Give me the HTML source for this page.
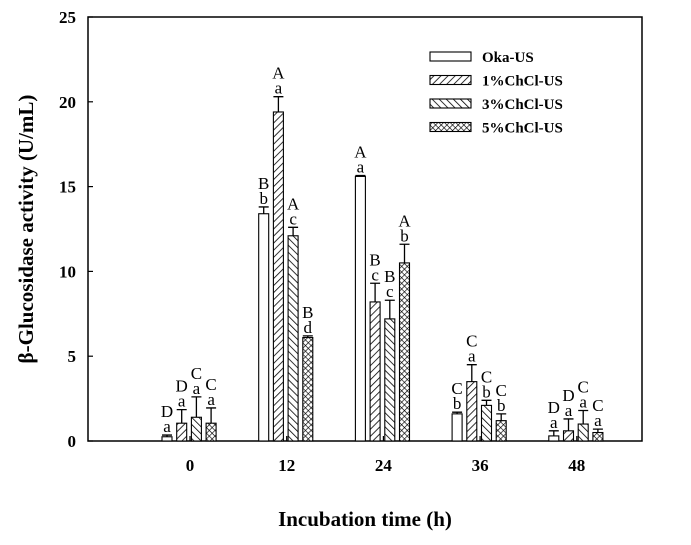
<!DOCTYPE html>
<html><head><meta charset="utf-8"><style>
body{margin:0;background:#fff}
svg text{font-family:"Liberation Serif",serif}
</style></head><body>
<svg id="c" width="691" height="540" viewBox="0 0 691 540">
<defs>
<pattern id="p1" width="5" height="5" patternUnits="userSpaceOnUse" patternTransform="rotate(45)"><rect width="5" height="5" fill="#fff"/><line x1="0" y1="0" x2="0" y2="5" stroke="#000" stroke-width="1.6"/></pattern>
<pattern id="p3" width="5" height="5" patternUnits="userSpaceOnUse" patternTransform="rotate(-45)"><rect width="5" height="5" fill="#fff"/><line x1="0" y1="0" x2="0" y2="5" stroke="#000" stroke-width="1.6"/></pattern>
<pattern id="p5" width="4" height="4" patternUnits="userSpaceOnUse" patternTransform="rotate(45)"><rect width="4" height="4" fill="#fff"/><line x1="0" y1="0" x2="0" y2="4" stroke="#000" stroke-width="1.3"/><line x1="0" y1="0" x2="4" y2="0" stroke="#000" stroke-width="1.3"/></pattern>
</defs>
<g id="plot"></g>
</svg>
<script>
const categories=["0","12","24","36","48"];
const seriesNames=["Oka-US","1%ChCl-US","3%ChCl-US","5%ChCl-US"];
const okaVals=[0.25,13.4,15.6,1.6,0.3];
const ch1Vals=[1.05,19.4,8.2,3.5,0.6];
const ch3Vals=[1.4,12.1,7.2,2.1,1.0];
const ch5Vals=[1.05,6.1,10.5,1.2,0.5];
const okaErr=[0.1,0.4,0.05,0.1,0.3];
const ch1Err=[0.8,0.9,1.1,1.0,0.7];
const ch3Err=[1.2,0.5,1.1,0.3,0.8];
const ch5Err=[0.9,0.1,1.1,0.4,0.2];
const upperLetters=[["D","B","A","C","D"],["D","A","B","C","D"],["C","A","B","C","C"],["C","B","A","C","C"]];
const lowerLetters=[["a","b","a","b","a"],["a","a","c","a","a"],["a","c","c","b","a"],["a","d","b","b","a"]];
const yTicks=[0,5,10,15,20,25];
const vals=[okaVals,ch1Vals,ch3Vals,ch5Vals], errs=[okaErr,ch1Err,ch3Err,ch5Err];
const fills=["#fff","url(#p1)","url(#p3)","url(#p5)"];
const L=88,R=642,T=17,B=441;
const y=v=>B-(v/25)*(B-T);
const x=i=>190+i*96.7;
const ns="http://www.w3.org/2000/svg", g=document.getElementById('plot');
function mk(t,a,txt){const e=document.createElementNS(ns,t);for(const k in a)e.setAttribute(k,a[k]);if(txt!==undefined)e.textContent=txt;g.appendChild(e);return e;}
const frame=mk('rect',{x:L,y:T,width:R-L,height:B-T,fill:'none',stroke:'#000','stroke-width':1.5});


yTicks.forEach(t=>{
 const tl=mk('line',{x1:L,x2:L+5,y1:y(t),y2:y(t),stroke:'#000','stroke-width':1.2});
 
 
 const lb=mk('text',{x:L-12,y:y(t)+6,'text-anchor':'end','font-size':17,'font-weight':'bold'},t);
 
 
});
categories.forEach((c,i)=>{
 const tl=mk('line',{x1:x(i),x2:x(i),y1:B,y2:B-5,stroke:'#000','stroke-width':1.2});
 
 
 const lb=mk('text',{x:x(i),y:B+30,'text-anchor':'middle','font-size':17,'font-weight':'bold'},c);
 
 
 for(let s=0;s<4;s++){
  const bx=x(i)-28+s*14.7, v=vals[s][i], e=errs[s][i];
  const r=mk('rect',{x:bx,y:y(v),width:10,height:B-y(v),fill:fills[s],stroke:'#000','stroke-width':1.1});
  
  
  const cx=bx+5, ye=y(v+e);
  const el=mk('path',{d:`M${cx},${y(v)}V${ye}M${cx-5},${ye}H${cx+5}`,stroke:'#000','stroke-width':1.3,fill:'none'});
  
  
  const lo=mk('text',{x:cx,y:ye-3,'text-anchor':'middle','font-size':17},lowerLetters[s][i]);
  
  
  const up=mk('text',{x:cx,y:ye-18,'text-anchor':'middle','font-size':17},upperLetters[s][i]);
  
  
 }
});
seriesNames.forEach((n,s)=>{
 const ly=52+s*23.5;
 const sw=mk('rect',{x:430,y:ly,width:41,height:9,fill:fills[s],stroke:'#000','stroke-width':1.1});
 
 
 const t=mk('text',{x:482,y:ly+10,'font-size':15,'font-weight':'bold'},n);
 
 
});
const xt=mk('text',{x:365,y:526,'text-anchor':'middle','font-size':21,'font-weight':'bold'},'Incubation time (h)');


const yt=mk('text',{x:0,y:0,'text-anchor':'middle','font-size':21,'font-weight':'bold',transform:'translate(33,229) rotate(-90)'},'β-Glucosidase activity (U/mL)');


</script>
</body></html>
